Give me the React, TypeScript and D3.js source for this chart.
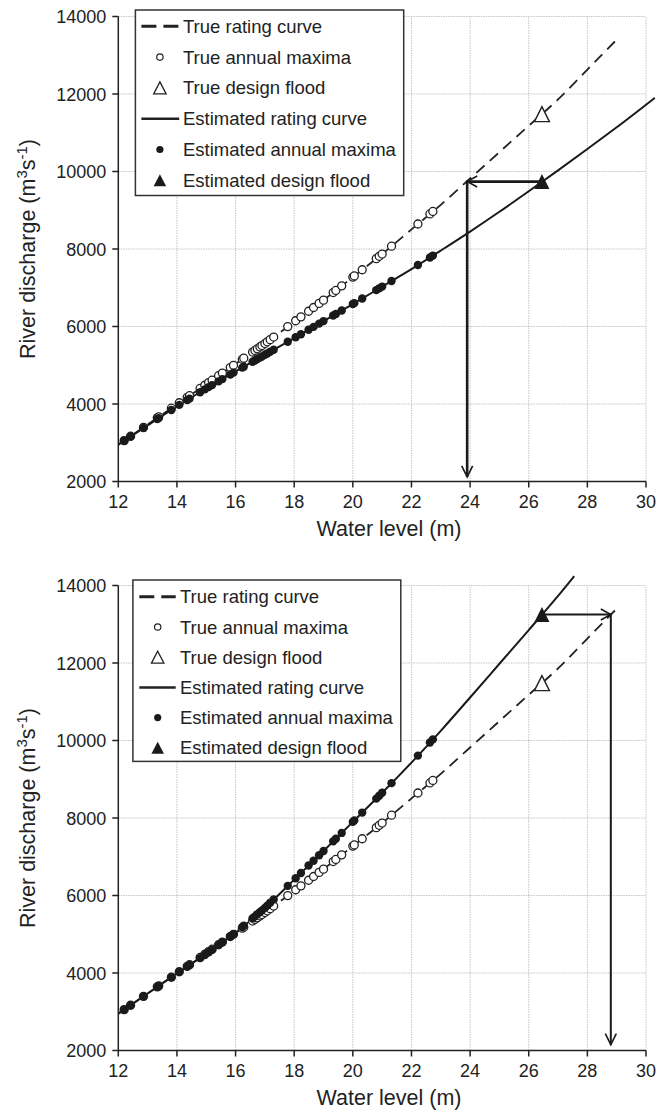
import React from 'react';
import * as d3 from 'd3';

// Annual maxima water levels (m)
const levels = [12.2, 12.42, 12.86, 13.33, 13.38, 13.81, 14.08, 14.35, 14.43, 14.79, 14.95, 15.08, 15.2, 15.42, 15.55, 15.82, 15.93, 16.23, 16.28, 16.58, 16.66, 16.74, 16.83, 16.9, 17.0, 17.08, 17.18, 17.3, 17.78, 18.05, 18.23, 18.49, 18.66, 18.85, 19.0, 19.33, 19.42, 19.62, 20.0, 20.05, 20.32, 20.8, 20.9, 21.0, 21.32, 22.22, 22.63, 22.73];
// True annual maxima discharges (both panels)
const trueQ = [3054, 3168, 3397, 3642, 3668, 3891, 4032, 4172, 4214, 4401, 4484, 4552, 4615, 4731, 4799, 4941, 4998, 5156, 5182, 5340, 5382, 5424, 5471, 5508, 5560, 5605, 5661, 5728, 5997, 6148, 6249, 6394, 6490, 6596, 6680, 6876, 6930, 7049, 7275, 7305, 7465, 7751, 7811, 7870, 8073, 8645, 8905, 8969];
// Estimated annual maxima discharges, top panel
const estQTop = [3050, 3160, 3380, 3612, 3636, 3847, 3977, 4101, 4138, 4303, 4377, 4435, 4488, 4585, 4642, 4761, 4809, 4939, 4960, 5089, 5124, 5158, 5197, 5227, 5270, 5304, 5347, 5399, 5605, 5722, 5801, 5916, 5990, 6074, 6140, 6285, 6325, 6413, 6580, 6603, 6724, 6940, 6985, 7030, 7174, 7586, 7782, 7830];
// Estimated annual maxima discharges, bottom panel
const estQBottom = [3054, 3168, 3397, 3642, 3668, 3891, 4030, 4165, 4205, 4385, 4465, 4534, 4600, 4721, 4793, 4941, 5002, 5187, 5219, 5411, 5462, 5514, 5571, 5616, 5680, 5738, 5811, 5899, 6249, 6447, 6580, 6773, 6898, 7039, 7150, 7398, 7465, 7615, 7900, 7938, 8140, 8500, 8575, 8650, 8900, 9610, 9947, 10029];

// Rating curves (level m, discharge m3/s)
const trueCurveH = [12, 13, 14, 15, 16, 17, 18, 19, 20, 21, 22, 23, 24, 25, 26, 27, 28, 29.1];
const trueCurveQ = [2950, 3470, 3990, 4510, 5035, 5560, 6120, 6680, 7275, 7870, 8505, 9140, 9820, 10500, 11180, 11860, 12630, 13480];
const estCurveTopH = [12, 13, 14, 15, 16, 17, 18, 19, 20, 21, 22, 23, 24, 25, 26, 27, 28, 29, 30.3];
const estCurveTopQ = [2950, 3450, 3940, 4400, 4840, 5270, 5700, 6140, 6580, 7030, 7480, 7960, 8450, 8960, 9490, 10030, 10580, 11140, 11900];
const estCurveBotH = [12, 13, 14, 15, 16, 17, 18, 19, 20, 21, 22, 23, 24, 25, 26, 27, 27.55];
const estCurveBotQ = [2950, 3470, 3990, 4490, 5040, 5680, 6410, 7150, 7900, 8650, 9430, 10250, 11110, 11980, 12850, 13730, 14240];

// Design flood
const designLevel = 26.45;
const trueDesignQ = 11480;
const estDesignQTop = 9740;
const estDesignQBottom = 13250;
const arrowLevelTop = 23.9;
const arrowLevelBottom = 28.8;
const arrowTipQTop = 2120;
const arrowTipQBottom = 2150;

const xTicks = [12, 14, 16, 18, 20, 22, 24, 26, 28, 30];
const yTicks = [2000, 4000, 6000, 8000, 10000, 12000, 14000];
const legendLabels = ['True rating curve', 'True annual maxima', 'True design flood', 'Estimated rating curve', 'Estimated annual maxima', 'Estimated design flood'];

const FONT = '"Liberation Sans", Arial, Helvetica, sans-serif';
const TXT = '#222';

function triPath(w: number, h: number) {
  return `M0,${-h / 2}L${w / 2},${h / 2}L${-w / 2},${h / 2}Z`;
}

type PanelProps = {
  yPix: [number, number];
  legend: { x: number; y: number; w: number; h: number; row0: number; step: number; lx1: number; lx2: number; mx: number; tx: number };
  estH: number[];
  estQ: number[];
  estPts: number[];
  estDesign: number;
  arrowLevel: number;
  arrowTip: number;
  arrowW: number;
};

function Panel(p: PanelProps) {
  const x = d3.scaleLinear().domain([12, 30]).range([118.3, 646]);
  const y = d3.scaleLinear().domain([2000, 14000]).range(p.yPix);
  const line = d3.line<[number, number]>().x(d => x(d[0])).y(d => y(d[1])).curve(d3.curveMonotoneX);
  const truePath = line(trueCurveH.map((h, i) => [h, trueCurveQ[i]]) as [number, number][]) || '';
  const estPath = line(p.estH.map((h, i) => [h, p.estQ[i]]) as [number, number][]) || '';
  const tri = triPath(15, 15);
  const triSmall = triPath(12.5, 12);
  const x0 = x(12), x1 = x(30), yb = y(2000), yt = y(14000);
  const L = p.legend;
  const ax = x(p.arrowLevel), ay = y(p.estDesign), dx = x(designLevel);
  const dir = ax < dx ? 1 : -1;
  const tipY = y(p.arrowTip);
  const ymid = (yb + yt) / 2;
  return (
    <g>
      {xTicks.slice(1).map(t => (
        <line key={'gx' + t} x1={x(t)} x2={x(t)} y1={yb} y2={yt} stroke="#c4c4c4" strokeWidth={1} strokeDasharray="1.5,1" />
      ))}
      {yTicks.slice(1).map(t => (
        <line key={'gy' + t} x1={x0} x2={x1} y1={y(t)} y2={y(t)} stroke="#c4c4c4" strokeWidth={1} strokeDasharray="1.5,1" />
      ))}
      <line x1={x0} x2={x0} y1={yb} y2={yt} stroke={TXT} strokeWidth={1.5} />
      <line x1={x0} x2={x1} y1={yb} y2={yb} stroke={TXT} strokeWidth={1.5} />
      {yTicks.map(t => (
        <g key={'ty' + t}>
          <line x1={x0 - 6} x2={x0} y1={y(t)} y2={y(t)} stroke={TXT} strokeWidth={1.5} />
          <text x={x0 - 12} y={y(t) + 6.5} textAnchor="end" fontFamily={FONT} fontSize={18} fill={TXT}>{t}</text>
        </g>
      ))}
      {xTicks.map(t => (
        <g key={'tx' + t}>
          <line x1={x(t)} x2={x(t)} y1={yb} y2={yb + 6} stroke={TXT} strokeWidth={1.5} />
          <text x={x(t)} y={yb + 26.5} textAnchor="middle" fontFamily={FONT} fontSize={18} fill={TXT}>{t}</text>
        </g>
      ))}
      <text x={389} y={yb + 54} textAnchor="middle" fontFamily={FONT} fontSize={21.5} fill={TXT}>Water level (m)</text>
      <text transform={`translate(35,${ymid}) rotate(-90)`} textAnchor="middle" fontFamily={FONT} fontSize={21.5} fill={TXT}>
        River discharge (m<tspan dy={-8} fontSize={15}>3</tspan><tspan dy={8}>s</tspan><tspan dy={-8} fontSize={15}>-1</tspan><tspan dy={8}>)</tspan>
      </text>
      <path d={truePath} fill="none" stroke="#222" strokeWidth={1.8} strokeDasharray="11,7" />
      <path d={estPath} fill="none" stroke="#1a1a1a" strokeWidth={2} />
      {levels.map((h, i) => (
        <circle key={'t' + i} cx={x(h)} cy={y(trueQ[i])} r={4} fill="#fff" stroke="#222" strokeWidth={1.3} />
      ))}
      {levels.map((h, i) => (
        <circle key={'e' + i} cx={x(h)} cy={y(p.estPts[i])} r={4.2} fill="#1a1a1a" />
      ))}
      <line x1={dx} x2={ax} y1={ay} y2={ay} stroke="#1a1a1a" strokeWidth={p.arrowW} />
      <path d={`M${ax + dir * 10},${ay - 5.5}L${ax},${ay}L${ax + dir * 10},${ay + 5.5}`} fill="none" stroke="#1a1a1a" strokeWidth={1.6} />
      <line x1={ax} x2={ax} y1={ay - p.arrowW / 2} y2={tipY} stroke="#1a1a1a" strokeWidth={p.arrowW} />
      <path d={`M${ax - 5.5},${tipY - 11}L${ax},${tipY}L${ax + 5.5},${tipY - 11}`} fill="none" stroke="#1a1a1a" strokeWidth={1.6} />
      <path d={tri} transform={`translate(${x(designLevel)},${y(trueDesignQ)})`} fill="#fff" stroke="#222" strokeWidth={1.4} />
      <path d={tri} transform={`translate(${dx},${ay})`} fill="#1a1a1a" />
      <rect x={L.x} y={L.y} width={L.w} height={L.h} fill="#fff" stroke="#333" strokeWidth={1.5} />
      {legendLabels.map((lab, i) => {
        const ry = L.row0 + i * L.step;
        let sym: any = null;
        if (i === 0) sym = <line x1={L.lx1} x2={L.lx2} y1={ry} y2={ry} stroke="#222" strokeWidth={3} strokeDasharray="15,7" />;
        if (i === 1) sym = <circle cx={L.mx} cy={ry} r={3.2} fill="#fff" stroke="#222" strokeWidth={1.2} />;
        if (i === 2) sym = <path d={triSmall} transform={`translate(${L.mx},${ry})`} fill="#fff" stroke="#222" strokeWidth={1.3} />;
        if (i === 3) sym = <line x1={L.lx1} x2={L.lx2} y1={ry} y2={ry} stroke="#222" strokeWidth={2.5} />;
        if (i === 4) sym = <circle cx={L.mx} cy={ry} r={3.6} fill="#1a1a1a" />;
        if (i === 5) sym = <path d={triSmall} transform={`translate(${L.mx},${ry})`} fill="#1a1a1a" />;
        return (
          <g key={'lg' + i}>
            {sym}
            <text x={L.tx} y={ry + 6.5} fontFamily={FONT} fontSize={18.5} fill={TXT}>{lab}</text>
          </g>
        );
      })}
    </g>
  );
}

export default function App() {
  return (
    <svg width={666} height={1110} style={{ position: 'absolute', left: 0, top: 0, background: '#fff' }}>
      <rect x={0} y={0} width={666} height={1110} fill="#fff" />
      <Panel
        yPix={[481.5, 16.5]}
        legend={{ x: 135.4, y: 10, w: 268.3, h: 185.5, row0: 26.3, step: 30.8, lx1: 141.4, lx2: 179.2, mx: 159.9, tx: 183 }}
        estH={estCurveTopH}
        estQ={estCurveTopQ}
        estPts={estQTop}
        estDesign={estDesignQTop}
        arrowLevel={arrowLevelTop}
        arrowTip={arrowTipQTop}
        arrowW={2.6}
      />
      <Panel
        yPix={[1050.5, 585.5]}
        legend={{ x: 132.9, y: 580, w: 267.9, h: 181.4, row0: 596.8, step: 30.2, lx1: 139.3, lx2: 175.7, mx: 157.7, tx: 180 }}
        estH={estCurveBotH}
        estQ={estCurveBotQ}
        estPts={estQBottom}
        estDesign={estDesignQBottom}
        arrowLevel={arrowLevelBottom}
        arrowTip={arrowTipQBottom}
        arrowW={2}
      />
    </svg>
  );
}
